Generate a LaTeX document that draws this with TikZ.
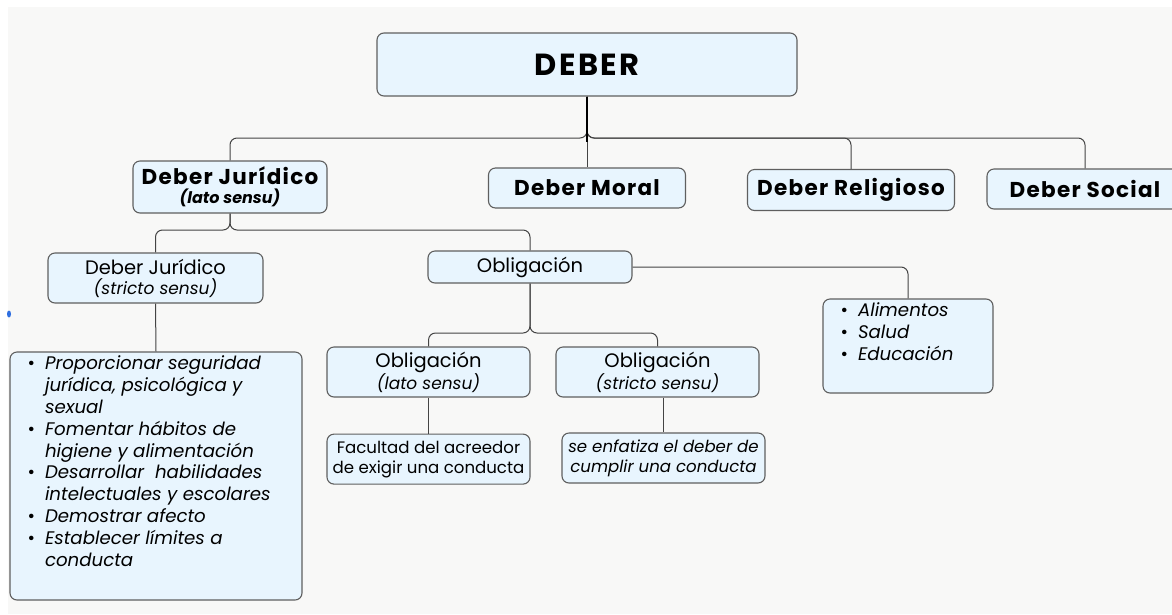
\documentclass[tikz,border=0pt]{standalone}
\usepackage{fontspec}
\setmainfont{Poppins}
\newfontfamily\wideface{Poppins}[LetterSpace=6]
\newfontfamily\deberface{Poppins}[LetterSpace=8]
\usetikzlibrary{positioning}

\definecolor{boxfill}{HTML}{E8F5FE}
\definecolor{boxline}{HTML}{5F5F5F}
\definecolor{linkc}{HTML}{444444}
\definecolor{paper}{HTML}{F8F8F7}
\definecolor{dotblue}{HTML}{2F6FE0}

\newcommand\fdeber{\deberface\fontsize{30.5}{34}\selectfont\bfseries}
\newcommand\fhead{\wideface\fontsize{21.5}{24}\selectfont\bfseries\upshape}
\newcommand\fsubbi{\fontsize{16}{19}\selectfont\bfseries\itshape}
\newcommand\fmid{\fontsize{19.5}{22}\selectfont\mdseries\upshape}
\newcommand\fsubi{\fontsize{17}{20}\selectfont\itshape}
\newcommand\fsmall{\fontsize{16.6}{20}\selectfont}
\newcommand\flist{\fontsize{18.2}{21.8}\selectfont\itshape}

\newcommand\listset{\setlength{\leftmargini}{35pt}\setlength{\labelsep}{10pt}%
  \setlength{\topsep}{0pt}\setlength{\partopsep}{0pt}}
\newcommand\listtight{\setlength{\itemsep}{0pt}\setlength{\parsep}{0pt}\setlength{\parskip}{0pt}}

\tikzset{
  box/.style={draw=boxline, fill=boxfill, rounded corners=7pt, line width=1.1pt,
    inner sep=0pt, align=center},
  link/.style={draw=linkc, line width=1pt, rounded corners=7pt},
  stem/.style={draw=black, line width=2.4pt},
}

\begin{document}
\begin{tikzpicture}[x=1pt, y=-1pt]
  \useasboundingbox (0,0) rectangle (1172,614);
  \clip (0,0) rectangle (1172,614);
  \fill[white] (0,0) rectangle (1172,614);
  \fill[paper] (8,7) rectangle (1172,614);
  \fill[dotblue] (9,314) ellipse [x radius=2, y radius=3.5];

  % top level
  \node[box, minimum width=420, minimum height=63, font=\fdeber] (deber) at (587,64.5) {DEBER};

  \node[box, minimum width=194, minimum height=52, font=\fsubbi] (djl) at (230,187)
    {{\fhead Deber Jurídico}\\(lato sensu)};
  \node[box, minimum width=197, minimum height=40, font=\fhead] (moral) at (587,188) {Deber Moral};
  \node[box, minimum width=207, minimum height=41, font=\fhead] (relig) at (851,190) {Deber Religioso};
  \node[box, minimum width=196, minimum height=40, font=\fhead] (social) at (1085,189) {Deber Social};

  % second level
  \node[box, minimum width=215, minimum height=50, font=\fsubi] (djs) at (155.5,278)
    {{\fmid Deber Jurídico}\\(stricto sensu)};
  \node[box, minimum width=204, minimum height=32, font=\fmid] (oblig) at (530,267) {Obligación};

  \node[box, minimum width=292, minimum height=248] (deberes) at (156,476)
    {\begin{minipage}[t][248pt][t]{292pt}\flist\listset
      \vspace*{4pt}
      \begin{itemize}\listtight
        \item Proporcionar seguridad\\jurídica, psicológica y\\sexual
        \item Fomentar hábitos de\\higiene y alimentación
        \item Desarrollar \ habilidades\\intelectuales y escolares
        \item Demostrar afecto
        \item Establecer límites a\\conducta
      \end{itemize}
    \end{minipage}};

  \node[box, minimum width=170, minimum height=94] (alim) at (908,346)
    {\begin{minipage}[t][94pt][t]{170pt}\flist\listset
      \vspace*{4pt}
      \begin{itemize}\listtight
        \item Alimentos
        \item Salud
        \item Educación
      \end{itemize}
    \end{minipage}};

  % third level
  \node[box, minimum width=203, minimum height=50, font=\fsubi] (ol) at (428.5,372)
    {{\fmid Obligación}\\(lato sensu)};
  \node[box, minimum width=203, minimum height=50, font=\fsubi] (os) at (657.5,372)
    {{\fmid Obligación}\\(stricto sensu)};
  \node[box, minimum width=203, minimum height=50, font=\fsmall, below=36pt of ol] (fac)
    {Facultad del acreedor\\de exigir una conducta};
  \node[box, minimum width=203, minimum height=50, font=\fsmall\itshape] (enf) at (663.5,458)
    {se enfatiza el deber de\\cumplir una conducta};

  % connectors
  \coordinate (busa) at (587,138);
  \coordinate (busb) at (230,230);
  \coordinate (busc) at (530,333);

  \draw[link] (deber.south) -- (busa) -| (djl.north);
  \draw[link] (deber.south) -- (busa) -| (relig.north);
  \draw[link] (deber.south) -- (busa) -| (social.north);
  \draw[link] (busa) -- (moral.north);
  \draw[stem] (deber.south) -- ([yshift=-4pt]busa);

  \draw[link] (djl.south) -- (busb) -| (djs.north);
  \draw[link] (djl.south) -- (busb) -| (oblig.north);
  \draw[link] (djs.south) -- (deberes.north);
  \draw[link] (oblig.east) -| (alim.north);

  \draw[link] (oblig.south) -- (busc) -| (ol.north);
  \draw[link] (oblig.south) -- (busc) -| (os.north);
  \draw[link] (ol.south) -- (fac.north);
  \draw[link] (enf.north |- os.south) -- (enf.north);
\end{tikzpicture}
\end{document}
